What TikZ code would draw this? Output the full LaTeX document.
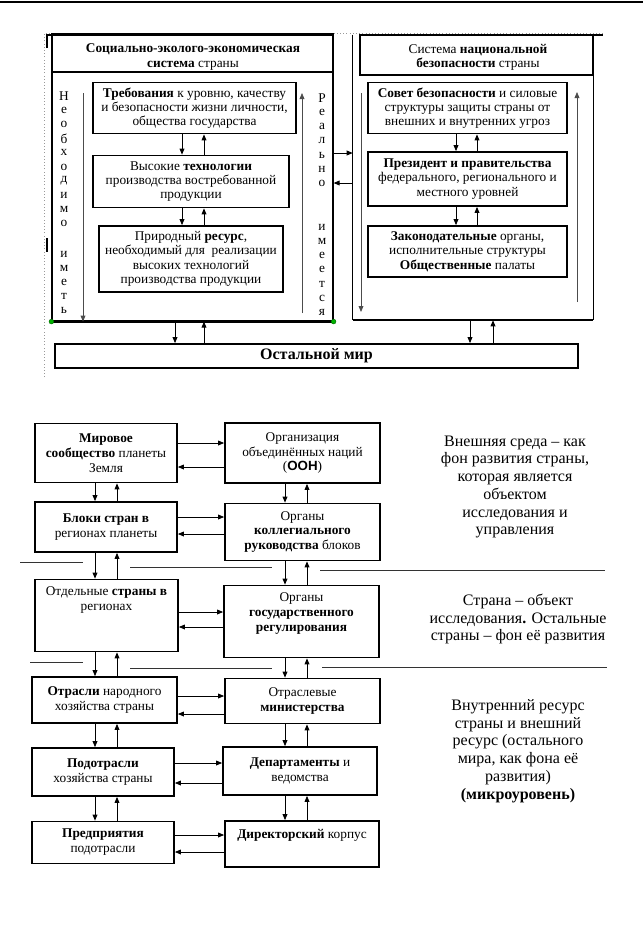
\documentclass[tikz,border=0pt]{standalone}
\usepackage{fontspec}
\setmainfont{Liberation Serif}
\newfontfamily\sansbf{Liberation Sans}
\usetikzlibrary{arrows.meta,fit}

\newcommand\boxfont{\fontsize{10pt}{10.7pt}\selectfont}
\newcommand\lowfont{\fontsize{10pt}{11.2pt}\selectfont}
\newcommand\sidefont{\fontsize{12pt}{13.3pt}\selectfont}

\tikzset{
  box/.style={draw, line width=1.3pt, inner sep=0pt, align=center, font=\boxfont},
  lowbox/.style={box, font=\lowfont},
  size/.style 2 args={minimum width=#1*0.75pt, minimum height=#2*0.75pt},
  frame/.style={inner sep=0pt},
  txt/.style={align=center, inner sep=0pt, font=\boxfont},
  side/.style={align=center, inner sep=0pt, font=\sidefont},
  letter/.style={inner sep=0pt, font=\boxfont},
  arr/.style={-{Triangle[length=4.5pt,width=3.6pt]}, line width=0.6pt},
  longarr/.style={arr, draw=black!70},
  sep/.style={line width=0.6pt, draw=black!80},
  handle/.style={line width=2.2pt}
}

\begin{document}
\begin{tikzpicture}[x=0.75pt,y=-0.75pt]
  \useasboundingbox (0,0) rectangle (643,936);
  \draw[line width=2pt] (0,2) -- (643,2);
  \draw[black!40, dotted] (44,377) -- (44,33) -- (605,33);

  % upper part: two systems
  \node[frame, draw, line width=0.9pt, fit={(52,35) (333,321)}] (ses) {};
  \draw[line width=1.5pt] (ses.north west) -- (ses.north east);
  \draw[line width=1.5pt] (ses.south west) -- (ses.south east);
  \draw[line width=0.9pt] (ses.west |- 0,72) -- (ses.east |- 0,72);
  \node[txt] (sestitle) at (193,57) {\textbf{Социально-эколого-экономическая}\\\textbf{система} страны};
  \draw[handle] (47,48) -- (47,35) -- (60,35);
  \draw[handle] (320,35) -- (333,35);
  \draw[handle] (47,238) -- (47,252);
  \foreach \p in {ses.south west, ses.south east}
    \filldraw[fill=green!70!black, draw=green!40!black, line width=0.3pt] (\p) circle (2.4);

  \node[frame, fit={(353,35) (593,320)}] (nss) {};
  \draw[line width=0.9pt] (nss.north west) -- (nss.south west);
  \draw[line width=0.9pt] (nss.north east) -- (nss.south east);
  \draw[line width=1.5pt] (nss.south west) -- (nss.south east);
  \node[frame, draw, line width=0.9pt, fit={(360,35) (593,75)}] (nsstitle) {};
  \node[txt] (nsstext) at (478,57) {Система \textbf{национальной}\\\textbf{безопасности} страны};
  \draw[handle] (593,35) -- (603,35);

  \node[box, size={203}{51}] (treb) at (194.5,108) {\textbf{Требования} к уровню, качеству\\и безопасности жизни личности,\\общества государства};
  \node[box, size={196}{52}] (tech) at (191,181.5) {Высокие \textbf{технологии}\\производства востребованной\\продукции};
  \node[box, size={184}{66}] (res) at (191,259) {Природный \textbf{ресурс},\\необходимый для\ \ реализации\\высоких технологий\\производства продукции};

  \node[box, size={199}{51}] (sovet) at (467.5,108) {\textbf{Совет безопасности} и силовые\\структуры защиты страны от\\внешних и внутренних угроз};
  \node[box, size={199}{54}] (pres) at (467.5,179) {\textbf{Президент и правительства}\\федерального, регионального и\\местного уровней};
  \node[box, size={199}{51}] (zakon) at (467.5,251.5) {\textbf{Законодательные} органы,\\исполнительные структуры\\\textbf{Общественные} палаты};

  \foreach \u/\v in {treb/tech, tech/res} {
    \draw[arr] (\u.south -| 182,0) -- (\v.north -| 182,0);
    \draw[arr] (\v.north -| 204,0) -- (\u.south -| 204,0);
  }
  \foreach \u/\v in {sovet/pres, pres/zakon} {
    \draw[arr] (\u.south -| 456,0) -- (\v.north -| 456,0);
    \draw[arr] (\v.north -| 477,0) -- (\u.south -| 477,0);
  }

  % vertical words
  \foreach \c [count=\i] in {Н,е,о,б,х,о,д,и,м,о}
    \node[letter] (need\i) at (64,{96+14.2*(\i-1)}) {\c};
  \foreach \c [count=\i] in {и,м,е,т,ь}
    \node[letter] (needb\i) at (64,{254+14*(\i-1)}) {\c};
  \foreach \c [count=\i] in {Р,е,а,л,ь,н,о}
    \node[letter] (real\i) at (322,{98+14.3*(\i-1)}) {\c};
  \foreach \c [count=\i] in {и,м,е,е,т,с,я}
    \node[letter] (realb\i) at (322,{227+14.3*(\i-1)}) {\c};

  \coordinate (needtop) at (83,93);
  \coordinate (realbot) at (302,313);
  \coordinate (realtop) at (302,93);
  \coordinate (nsstop) at (361,93);
  \coordinate (nssbot) at (361,312);
  \coordinate (nssupb) at (577,302);
  \coordinate (nssupt) at (577,92);
  \draw[longarr] (needtop) -- (ses.south -| needtop);
  \draw[longarr] (realbot) -- (realtop);
  \draw[longarr] (nsstop) -- (nssbot);
  \draw[longarr] (nssupb) -- (nssupt);

  \draw[arr] (ses.east |- 0,153) -- (nss.west |- 0,153);
  \draw[arr] (nss.west |- 0,183) -- (ses.east |- 0,183);

  \node[box, size={523}{24}, font=\fontsize{12pt}{13pt}\selectfont\bfseries] (world) at (316.5,356) {Остальной мир};
  \draw[arr] (ses.south -| 175,0) -- (world.north -| 175,0);
  \draw[arr] (world.north -| 204,0) -- (ses.south -| 204,0);
  \draw[arr] (nss.south -| 470,0) -- (world.north -| 470,0);
  \draw[arr] (world.north -| 493,0) -- (nss.south -| 493,0);

  % lower part: levels
  \draw[sep] (20,562) -- (83,562);
  \draw[sep] (130,567) -- (272,567);
  \draw[sep] (320,570) -- (605,570);
  \draw[sep] (30,662) -- (83,662);
  \draw[sep] (130,668) -- (272,668);
  \draw[sep] (322,667) -- (607,667);

  \node[lowbox, size={142}{59}] (world1) at (106,453) {\textbf{Мировое}\\\textbf{сообщество} планеты\\Земля};
  \node[lowbox, size={155}{60}] (oon) at (302.5,453) {Организация\\объединённых наций\\(\textbf{\sansbf ООН})};
  \node[lowbox, size={142}{50}] (blocks) at (106,527) {\textbf{Блоки стран в}\\регионах планеты};
  \node[lowbox, size={155}{57}] (kolleg) at (302.5,532) {Органы\\\textbf{коллегиального}\\\textbf{руководства} блоков};
  \node[lowbox, size={143}{72}] (country) at (106.5,615.5) {Отдельные \textbf{страны в}\\регионах\\\strut\\\strut};
  \node[lowbox, size={155}{72}] (gosreg) at (301.5,621.5) {Органы\\\textbf{государственного}\\\textbf{регулирования}\\\strut};
  \node[lowbox, size={145}{46}] (otrasl) at (104.5,700) {\textbf{Отрасли} народного\\хозяйства страны};
  \node[lowbox, size={155}{45}] (minist) at (302.5,701) {Отраслевые\\\textbf{министерства}};
  \node[lowbox, size={142}{48}] (podotr) at (103,772) {\textbf{Подотрасли}\\хозяйства страны};
  \node[lowbox, size={154}{48}] (depart) at (300,771) {\textbf{Департаменты} и\\ведомства};
  \node[lowbox, size={142}{42}] (predpr) at (103,842.5) {\textbf{Предприятия}\\подотрасли};
  \node[lowbox, size={154}{46}] (direkt) at (302,844) {\textbf{Директорский} корпус\\\strut};

  \foreach \u/\v/\ya/\yb in {world1/oon/443/467, blocks/kolleg/517/534, country/gosreg/612/627,
                             otrasl/minist/696/714, podotr/depart/763/783, predpr/direkt/835/852} {
    \draw[arr] (\u.east |- 0,\ya) -- (\v.west |- 0,\ya);
    \draw[arr] (\v.west |- 0,\yb) -- (\u.east |- 0,\yb);
  }
  \foreach \u/\v in {world1/blocks, blocks/country, country/otrasl, otrasl/podotr, podotr/predpr} {
    \draw[arr] (\u.south -| 95,0) -- (\v.north -| 95,0);
    \draw[arr] (\v.north -| 117,0) -- (\u.south -| 117,0);
  }
  \foreach \u/\v in {oon/kolleg, kolleg/gosreg, gosreg/minist, minist/depart, depart/direkt} {
    \draw[arr] (\u.south -| 285,0) -- (\v.north -| 285,0);
    \draw[arr] (\v.north -| 307,0) -- (\u.south -| 307,0);
  }

  \node[side] (outer) at (515,487) {Внешняя среда -- как\\фон развития страны,\\которая является\\объектом\\исследования и\\управления};
  \node[side] (strana) at (518,619) {Страна -- объект\\исследования\textbf{.} Остальные\\страны -- фон её развития};
  \node[side] (inner) at (518,751) {Внутренний ресурс\\страны и внешний\\ресурс (остального\\мира, как фона её\\развития)\\\textbf{(микроуровень)}};
\end{tikzpicture}
\end{document}
